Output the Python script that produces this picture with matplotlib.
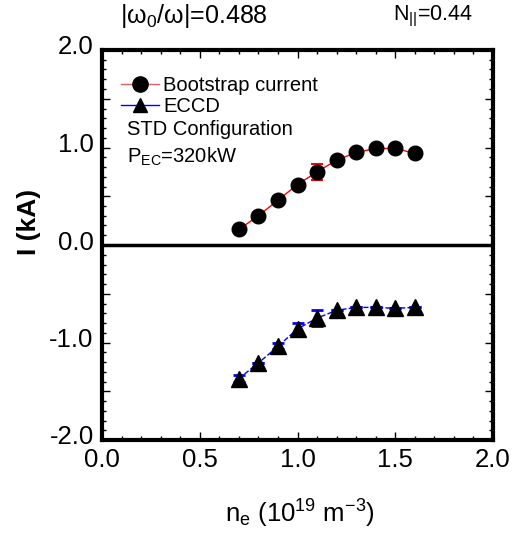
import matplotlib
matplotlib.use("Agg")
import matplotlib.pyplot as plt
from matplotlib.ticker import MultipleLocator, FuncFormatter
from matplotlib.lines import Line2D
from matplotlib.transforms import ScaledTranslation

plt.rcParams['font.family'] = ['Liberation Sans', 'DejaVu Sans']
plt.rcParams['mathtext.fontset'] = 'custom'
plt.rcParams['mathtext.rm'] = 'Liberation Sans'
plt.rcParams['mathtext.it'] = 'Liberation Sans'

ne = [0.7, 0.8, 0.9, 1.0, 1.1, 1.2, 1.3, 1.4, 1.5, 1.6]
bootstrap = [0.16, 0.30, 0.46, 0.62, 0.75, 0.87, 0.95, 0.99, 0.99, 0.94]
bootstrap_err = [0.0, 0.0, 0.0, 0.0, 0.08, 0.0, 0.0, 0.0, 0.0, 0.0]
eccd = [-1.37, -1.21, -1.04, -0.86, -0.75, -0.67, -0.64, -0.64, -0.65, -0.64]
eccd_err = [0.04, 0.0, 0.03, 0.06, 0.08, 0.0, 0.0, 0.0, 0.0, 0.0]

fig = plt.figure(figsize=(5.23, 5.37), dpi=100)
ax = fig.add_axes([102/523, 1 - 440/537, 391/523, 390/537])

ax.axhline(0, color='black', lw=2.5, zorder=1)

ax.errorbar(ne, bootstrap, yerr=bootstrap_err, color='red', lw=1, capsize=4,
            capthick=1.5, fmt='-', zorder=2)
ax.plot(ne, bootstrap, 'o', color='black', ms=10.5, zorder=3)
ax.errorbar(ne, eccd, yerr=eccd_err, color='blue', lw=1, ls='--', capsize=4,
            capthick=2, fmt='', zorder=2)
ax.plot(ne, eccd, '^', color='black', ms=11, zorder=3)

ax.set_xlim(0, 2)
ax.set_ylim(-2, 2)
ax.xaxis.set_major_locator(MultipleLocator(0.5))
ax.xaxis.set_minor_locator(MultipleLocator(0.1))
ax.yaxis.set_major_locator(MultipleLocator(0.5))
ax.yaxis.set_minor_locator(MultipleLocator(0.1))
ax.xaxis.set_major_formatter(FuncFormatter(lambda v, p: f"{v:.1f}"))
ax.yaxis.set_major_formatter(FuncFormatter(lambda v, p: f"{v:.1f}" if abs(v - round(v)) < 1e-6 else ""))
ax.tick_params(which='both', direction='in', top=True, right=True, labelsize=18.5, width=1)
ax.tick_params(which='major', length=6)
ax.tick_params(axis='x', which='major', pad=6)
ax.tick_params(axis='y', which='major', pad=6)
ax.tick_params(which='minor', length=3)
for s in ax.spines.values():
    s.set_linewidth(3)

shift = ScaledTranslation(0, 5/100, fig.dpi_scale_trans)
for lbl in ax.get_yticklabels():
    lbl.set_transform(lbl.get_transform() + shift)

fig.text(29/523, 1 - 222/537, "I (kA)", fontsize=19, fontweight='bold',
         rotation=90, ha='center', va='center')
fig.text(300/523, 1 - 514/537, r"n$_{\rm e}$ (10$^{19}$ m$^{-3}$)", fontsize=18.5,
         ha='center', va='center')

handles = [
    Line2D([], [], color='#e06060', lw=1, marker='o', mfc='black', mec='black', ms=11),
    Line2D([], [], color='blue', lw=1, marker='^', mfc='black', mec='black', ms=10),
]
ax.legend(handles, ["Bootstrap current", "ECCD"], loc='upper left', frameon=False,
          fontsize=14.5, handlelength=1.9, handletextpad=0.2, labelspacing=0.1,
          borderaxespad=0.0, bbox_to_anchor=(0.028, 0.955))

ax.text(0.065, 0.797, "STD Configuration", transform=ax.transAxes, fontsize=14.5, va='center')
ax.text(0.065, 0.727, r"P$_{\rm EC}$=320kW", transform=ax.transAxes, fontsize=14.5, va='center')

fig.text(120/523, 1 - 16/537, r"|ω$_{\rm 0}$/ω|=0.488", fontsize=18, va='center', ha='left')
fig.text(393/523, 1 - 16/537, r"N$_{||}$=0.44", fontsize=15.5, va='center', ha='left')

fig.savefig("out.png", dpi=100)
